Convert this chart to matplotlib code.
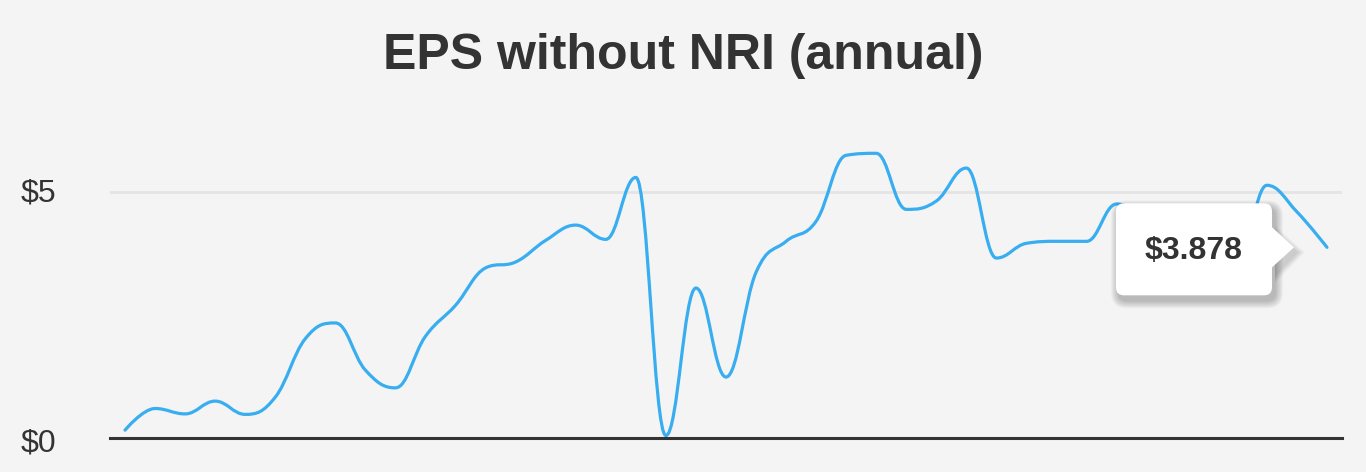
import numpy as np
import matplotlib
matplotlib.use("Agg")
import matplotlib.pyplot as plt
import matplotlib.transforms as mtransforms
from matplotlib.path import Path
from matplotlib.patches import PathPatch, FancyBboxPatch, Polygon

# annual EPS without NRI (oldest -> newest)
eps = [0.16, 0.60, 0.49, 0.75, 0.48, 0.83, 2.02, 2.34, 1.38, 1.02,
       2.07, 2.70, 3.46, 3.58, 4.02, 4.33, 4.04, 5.30, 0.05, 3.05,
       1.24, 3.37, 4.00, 4.41, 5.75, 5.79, 4.65, 4.82, 5.49, 3.66,
       3.96, 4.00, 4.00, 4.76, 4.45, 4.10, 3.80, 3.50, 5.14, 4.60,
       3.878]
ytick_vals = [0, 5]
ytick_labels = ["$0", "$5"]
title = "EPS without NRI (annual)"
tooltip_text = "$3.878"

BG = "#f4f4f4"
LINE = "#38adf0"
DARK = "#333333"

plt.rcParams["font.family"] = ["Liberation Sans", "DejaVu Sans"]


def spline_path(xs, ys, smoothing=1.5):
    # highcharts style spline: control points flattened at local extremes
    n = len(xs)
    lc = [None] * n
    rc = [None] * n
    den = smoothing + 1
    for i in range(1, n - 1):
        px, py = xs[i], ys[i]
        lx, ly = xs[i - 1], ys[i - 1]
        nx, ny = xs[i + 1], ys[i + 1]
        lcx = (smoothing * px + lx) / den
        lcy = (smoothing * py + ly) / den
        rcx = (smoothing * px + nx) / den
        rcy = (smoothing * py + ny) / den
        if rcx != lcx:
            corr = (rcy - lcy) * (rcx - px) / (rcx - lcx) + py - rcy
            lcy += corr
            rcy += corr
        if lcy > ly and lcy > py:
            lcy = max(ly, py)
            rcy = 2 * py - lcy
        elif lcy < ly and lcy < py:
            lcy = min(ly, py)
            rcy = 2 * py - lcy
        if rcy > ny and rcy > py:
            rcy = max(ny, py)
            lcy = 2 * py - rcy
        elif rcy < ny and rcy < py:
            rcy = min(ny, py)
            lcy = 2 * py - rcy
        lc[i] = (lcx, lcy)
        rc[i] = (rcx, rcy)
    verts = [(xs[0], ys[0])]
    codes = [Path.MOVETO]
    for i in range(1, n):
        c1 = rc[i - 1] if rc[i - 1] is not None else (xs[i - 1], ys[i - 1])
        c2 = lc[i] if lc[i] is not None else (xs[i], ys[i])
        verts += [c1, c2, (xs[i], ys[i])]
        codes += [Path.CURVE4] * 3
    return Path(verts, codes)


W, H = 1366, 472
fig = plt.figure(figsize=(W / 100, H / 100), dpi=100, facecolor=BG)
ax = fig.add_axes([110 / W, 34 / H, 1232 / W, 295 / H], facecolor=BG)

x = np.arange(len(eps))
ax.set_xlim(-0.5, len(eps) - 0.5)
ax.set_ylim(0, 6)

ax.add_patch(PathPatch(spline_path(x, eps), facecolor="none", edgecolor=LINE,
                       lw=2.3, capstyle="round", joinstyle="round", zorder=3))

ax.set_yticks(ytick_vals)
ax.set_yticklabels([])
ax.set_xticks([])
ax.tick_params(axis="y", length=0)
# tick labels drawn by hand so each can sit a few pixels off its gridline like the original
for v, lab, dy in zip(ytick_vals, ytick_labels, [-5, -1.5]):
    tr = ax.get_yaxis_transform() + mtransforms.ScaledTranslation(
        -54 / 100, dy / 100, fig.dpi_scale_trans)
    ax.text(0, v, lab, transform=tr, ha="right", va="center", fontsize=23,
            color=DARK, clip_on=False)
ax.grid(axis="y", color="#e4e4e4", lw=2)
ax.set_axisbelow(True)
for s in ["top", "right", "left"]:
    ax.spines[s].set_visible(False)
ax.spines["bottom"].set_color(DARK)
ax.spines["bottom"].set_linewidth(2.2)
ax.spines["bottom"].set_zorder(4)

fig.text(0.5, 1 - 69 / H, title, ha="center", va="baseline",
         fontsize=36, fontweight="bold", color=DARK)

# tooltip anchored on the last point, geometry in pixels relative to it
tip = mtransforms.Affine2D() + mtransforms.ScaledTranslation(x[-1], eps[-1], ax.transData)
bx0, bx1, by0, by1 = -211, -55, -48, 44
for k in range(1, 9):
    ax.add_patch(FancyBboxPatch((bx0 + 3, by0 - 5), bx1 - bx0, by1 - by0,
                                boxstyle=f"round,pad={k},rounding_size={8 + k}",
                                transform=tip, facecolor="black", edgecolor="none",
                                alpha=0.03, zorder=5, clip_on=False))
    ax.add_patch(Polygon([(bx1 + 3, 19 - 5 + k), (bx1 + 25 + k, -5), (bx1 + 3, -23 - 5 - k)],
                         closed=True, transform=tip, facecolor="black",
                         edgecolor="none", alpha=0.02, zorder=5, clip_on=False))
ax.add_patch(FancyBboxPatch((bx0, by0), bx1 - bx0, by1 - by0,
                            boxstyle="round,pad=0,rounding_size=8", transform=tip,
                            facecolor="white", edgecolor="none", zorder=6, clip_on=False))
ax.add_patch(Polygon([(bx1 - 1, 21), (bx1 + 22, 0), (bx1 - 1, -21)], closed=True,
                     transform=tip, facecolor="white", edgecolor="none",
                     zorder=6, clip_on=False))
ax.text((bx0 + bx1) / 2, -4, tooltip_text, transform=tip, ha="center", va="center",
        fontsize=23, fontweight="bold", color=DARK, zorder=7)

fig.savefig("out.png", dpi=100, facecolor=BG)
